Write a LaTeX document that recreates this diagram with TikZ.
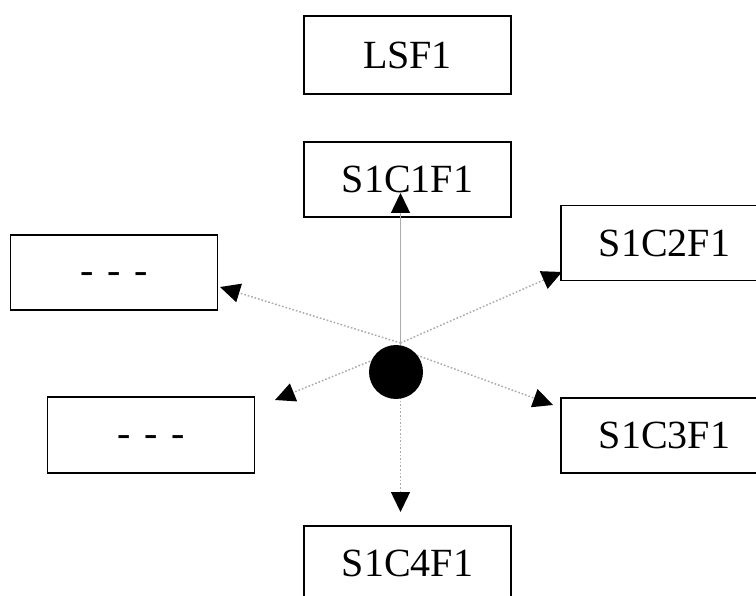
\documentclass[tikz,border=0pt]{standalone}
\usepackage{fontspec}
\setmainfont{Liberation Serif}
\usetikzlibrary{arrows.meta}
\newcommand{\dashtext}{\raisebox{0pt}[23pt][0pt]{-\hspace{13.4pt}-\hspace{13.4pt}-}}
\begin{document}
\begin{tikzpicture}[x=1pt,y=-1pt,
  box/.style={draw=black,line width=1.6pt,minimum width=207pt,minimum height=75pt,
    inner sep=0pt,font=\fontsize{40}{40}\selectfont},
  conn/.style={draw=black!33,line width=1.5pt,
    -{Triangle[length=20pt,width=19pt,black]}},
  dotconn/.style={conn,dash pattern=on 1.6pt off 2pt}]
\useasboundingbox (0,0) rectangle (756,596);
\node[box,minimum height=78pt] (lsf) at (407.5,55) {LSF1};
\node[box] (c1) at (407.5,179.5) {S1C1F1};
\node[box] (c2) at (664.5,243) {S1C2F1};
\node[box] (d1) at (114,272.5) {\dashtext};
\node[box,minimum height=76pt] (d2) at (151,435) {\dashtext};
\node[box] (c3) at (664.5,435.5) {S1C3F1};
\node[box] (c4) at (407.5,563.5) {S1C4F1};
\coordinate (hubA) at (400.5,343);
\coordinate (hubB) at (400,349);
\coordinate (t1) at (400.5,193);
\coordinate (t2) at (562,272);
\coordinate (t3) at (220,287);
\coordinate (t4) at (275,400);
\coordinate (t5) at (553,405);
\coordinate (t6) at (400.5,512);
\draw[conn] (hubA) -- (t1);
\draw[dotconn] (hubA) -- (t2);
\draw[dotconn] (hubA) -- (t3);
\draw[dotconn] (hubB) -- (t4);
\draw[dotconn] (hubB) -- (t5);
\draw[dotconn] (hubA) -- (t6);
\node[circle,fill=black,minimum size=54pt,inner sep=0pt] (dot) at (396,372) {};
\end{tikzpicture}
\end{document}
